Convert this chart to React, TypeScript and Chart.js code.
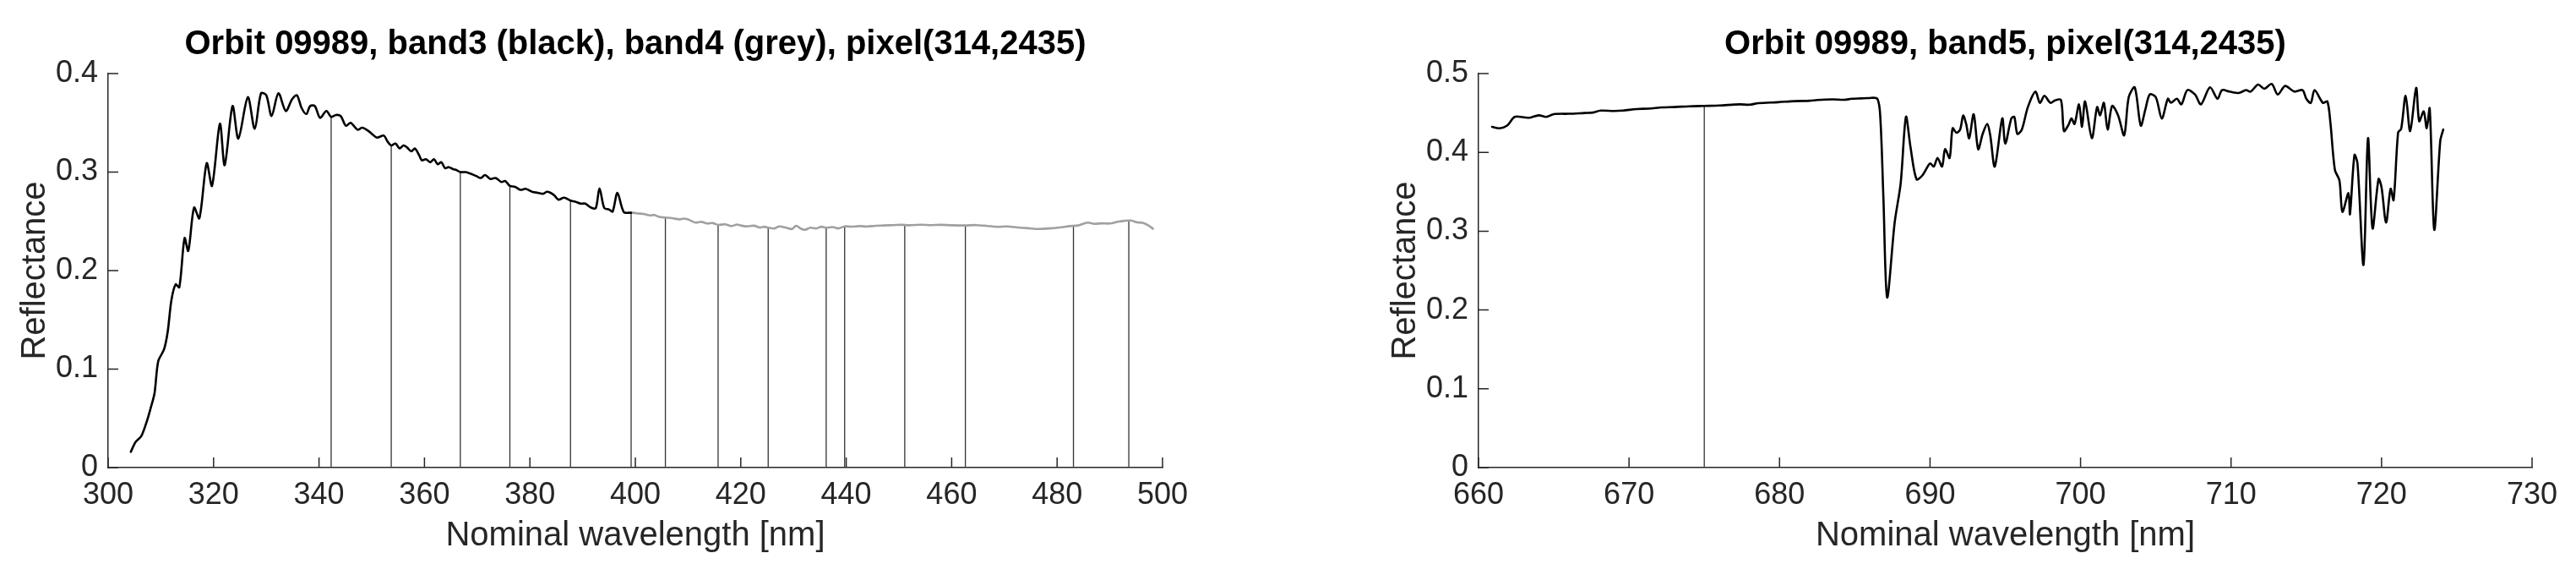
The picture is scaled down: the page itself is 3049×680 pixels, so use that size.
import { useEffect, useRef } from 'react';
import { Chart, registerables } from 'chart.js';

Chart.register(...registerables);

const FONT = "'Liberation Sans', Arial, Helvetica, sans-serif";
const AXIS_COLOR = '#262626';

// ---------- Left panel: band3 (black) ----------
const band3Wl = [
  304.3, 305.2, 306.3, 307.4, 308.1, 308.8, 309.5, 310.6, 311.3, 312.0, 312.8, 313.5, 314.5, 315.2,
  316.3, 317.3, 318.7, 319.7, 321.2, 322.1, 323.6, 324.7, 326.5, 327.8, 329.0, 330.0, 331.0, 332.3,
  333.7, 334.9, 335.8, 336.7, 337.6, 338.3, 339.2, 340.2, 341.4, 342.3, 343.2, 344.1, 345.1, 346.0,
  347.3, 348.2, 349.3, 350.2, 351.0, 352.3, 353.0, 353.7, 354.5, 355.3, 356.0, 356.7, 357.5, 358.2,
  359.0, 359.5, 360.3, 361.1, 361.8, 362.5, 363.2, 363.9, 364.6, 365.4, 366.1, 366.8, 367.8, 368.9,
  369.8, 370.7, 371.5, 372.5, 373.5, 374.6, 375.3, 376.2, 377.2, 378.2, 379.2, 380.4, 381.5, 382.5,
  383.2, 383.9, 384.7, 385.4, 386.5, 387.7, 388.6, 389.6, 390.5, 391.6, 392.5, 393.2, 394.1, 395.0,
  395.7, 396.6, 397.8, 399.2,
];
const band3Refl = [
  0.016, 0.026, 0.032, 0.048, 0.061, 0.0755, 0.108, 0.12, 0.138, 0.17, 0.186, 0.183, 0.233, 0.22,
  0.264, 0.253, 0.309, 0.286, 0.349, 0.307, 0.367, 0.334, 0.376, 0.344, 0.38, 0.378, 0.357, 0.38,
  0.362, 0.374, 0.378, 0.365, 0.359, 0.367, 0.367, 0.355, 0.362, 0.356, 0.358, 0.357, 0.347, 0.35,
  0.343, 0.345, 0.342, 0.338, 0.335, 0.337, 0.331, 0.327, 0.329, 0.324, 0.327, 0.325, 0.321, 0.324,
  0.317, 0.312, 0.313, 0.31, 0.313, 0.308, 0.31, 0.304, 0.305, 0.303, 0.302, 0.3, 0.3, 0.298,
  0.296, 0.294, 0.297, 0.293, 0.294, 0.29, 0.291, 0.286, 0.285, 0.282, 0.283, 0.28, 0.279, 0.278,
  0.28, 0.279, 0.276, 0.272, 0.274, 0.271, 0.27, 0.268, 0.268, 0.264, 0.2635, 0.2835, 0.2635, 0.262,
  0.26, 0.279, 0.2595, 0.2587,
];

// ---------- Left panel: band4 (grey) ----------
const band4Wl = [
  399.2, 400.5, 401.5, 402.8, 403.6, 404.5, 405.7, 407.0, 408.3, 409.2, 410.0, 411.4, 412.5, 413.6,
  414.7, 415.7, 417.0, 418.2, 419.3, 420.0, 421.2, 422.5, 423.6, 424.4, 425.2, 426.4, 427.3, 428.6,
  429.7, 430.5, 431.4, 432.2, 433.2, 434.3, 435.3, 436.2, 437.4, 438.5, 439.7, 441.0, 442.5, 444.0,
  445.6, 447.2, 449.0, 450.5, 452.0, 454.3, 456.0, 458.0, 460.0, 462.6, 464.5, 466.5, 468.6, 470.5,
  472.5, 474.5, 476.5, 478.5, 480.5, 482.5, 484.0, 485.8, 487.0, 488.5, 490.0, 491.5, 492.8, 494.0,
  495.2, 496.2, 497.2, 498.2,
];
const band4Refl = [
  0.259, 0.258, 0.2575, 0.256, 0.2565, 0.2545, 0.2538, 0.2532, 0.252, 0.2528, 0.252, 0.2487, 0.2495, 0.2478,
  0.2482, 0.2464, 0.247, 0.2452, 0.2468, 0.2458, 0.2448, 0.2456, 0.2437, 0.2445, 0.2435, 0.2428, 0.2448, 0.2435,
  0.2422, 0.2455, 0.2425, 0.2415, 0.2435, 0.2428, 0.2445, 0.2435, 0.2442, 0.2428, 0.2449, 0.2446, 0.2452, 0.2447,
  0.2455, 0.2458, 0.2462, 0.2465, 0.246, 0.2466, 0.2462, 0.2465, 0.246, 0.2458, 0.2462, 0.2455, 0.2444, 0.2448,
  0.2438, 0.243, 0.2423, 0.2428, 0.2438, 0.2452, 0.2458, 0.2487, 0.2475, 0.248, 0.2478, 0.2495, 0.2505, 0.2508,
  0.249, 0.2485, 0.2462, 0.2425,
];

// Vertical marker lines in left panel
const markerWlLeft = [342.3, 353.7, 366.8, 376.2, 387.7, 399.2, 405.7, 415.7, 425.2, 436.2, 439.7, 451.1, 462.6, 483.1, 493.6];
const markerTopLeft = [0.356, 0.327, 0.3, 0.286, 0.271, 0.2587, 0.2538, 0.2464, 0.2435, 0.2435, 0.2449, 0.246, 0.2458, 0.2452, 0.2508];

// ---------- Right panel: band5 ----------
const band5Wl = [
  660.9, 661.4, 661.9, 662.4, 663.0, 663.4, 664.0, 664.5, 665.0, 666.0, 667.05, 667.6, 668.1, 669.0,
  669.6, 670.5, 671.3, 672.2, 673.0, 674.0, 675.0, 676.0, 677.35, 678.0, 678.6, 679.9, 681.0, 682.0,
  682.5, 683.5, 684.3, 684.8, 685.4, 685.9, 686.5, 686.7, 686.9, 687.15, 687.65, 688.05, 688.4, 688.7,
  689.1, 689.5, 690.0, 690.25, 690.5, 690.8, 691.0, 691.3, 691.5, 691.75, 692.0, 692.2, 692.4, 692.6,
  692.9, 693.2, 693.5, 693.8, 694.0, 694.3, 694.8, 695.0, 695.4, 695.6, 695.8, 696.1, 696.5, 697.0,
  697.3, 697.6, 698.0, 698.3, 698.7, 698.9, 699.2, 699.4, 699.6, 699.9, 700.1, 700.3, 700.75, 701.1,
  701.3, 701.55, 701.8, 702.1, 702.5, 702.9, 703.2, 703.6, 704.0, 704.3, 704.6, 705.0, 705.4, 705.8,
  706.0, 706.4, 706.7, 707.1, 707.6, 708.0, 708.6, 709.1, 709.4, 709.9, 710.5, 711.0, 711.3, 711.8,
  712.2, 712.7, 713.1, 713.6, 714.2, 714.75, 715.0, 715.3, 715.55, 716.1, 716.4, 716.6, 716.9, 717.2,
  717.4, 717.8, 717.9, 718.2, 718.4, 718.8, 719.1, 719.4, 719.8, 720.0, 720.3, 720.6, 720.8, 721.1,
  721.3, 721.6, 721.9, 722.3, 722.5, 722.8, 723.0, 723.2, 723.5, 723.9, 724.1,
];
const band5Refl = [
  0.4324, 0.4306, 0.434, 0.445, 0.4445, 0.444, 0.447, 0.445, 0.4485, 0.449, 0.45, 0.4505, 0.453, 0.4525,
  0.453, 0.455, 0.4555, 0.457, 0.4575, 0.4585, 0.459, 0.4595, 0.461, 0.4605, 0.4625, 0.4637, 0.465, 0.4655,
  0.4664, 0.4672, 0.4668, 0.468, 0.4685, 0.4689, 0.468, 0.443, 0.343, 0.216, 0.311, 0.361, 0.445, 0.407,
  0.366, 0.371, 0.386, 0.382, 0.393, 0.382, 0.404, 0.393, 0.4306, 0.425, 0.429, 0.4467, 0.436, 0.418,
  0.4485, 0.404, 0.4235, 0.436, 0.4217, 0.382, 0.443, 0.411, 0.443, 0.445, 0.4235, 0.429, 0.4575, 0.477,
  0.4628, 0.4718, 0.4628, 0.466, 0.4664, 0.427, 0.435, 0.443, 0.436, 0.461, 0.4324, 0.4646, 0.418, 0.4575,
  0.447, 0.4628, 0.429, 0.459, 0.4467, 0.4217, 0.47, 0.4825, 0.434, 0.4539, 0.4735, 0.47, 0.443, 0.468,
  0.463, 0.468, 0.461, 0.479, 0.4735, 0.461, 0.4825, 0.468, 0.479, 0.4771, 0.4753, 0.479, 0.4771, 0.486,
  0.4807, 0.4868, 0.4735, 0.4843, 0.4771, 0.479, 0.468, 0.4628, 0.479, 0.4628, 0.4646, 0.4378, 0.3777, 0.3645,
  0.3245, 0.3484, 0.3216, 0.3967, 0.386, 0.2572, 0.418, 0.3036, 0.3662, 0.3555, 0.311, 0.3537, 0.3394, 0.4253,
  0.4296, 0.4718, 0.427, 0.4818, 0.4396, 0.452, 0.4306, 0.4557, 0.3018, 0.4145, 0.429,
];

const markerWlRight = [675.0];
const markerTopRight = [0.459];

// Axis ticks / ranges
const leftXRange = [300, 500];
const leftXStep = 20;
const leftYMax = 0.4;
const rightXRange = [660, 730];
const rightXStep = 10;
const rightYMax = 0.5;
const yStep = 0.1;

const leftTitle = 'Orbit 09989, band3 (black), band4 (grey), pixel(314,2435)';
const rightTitle = 'Orbit 09989, band5, pixel(314,2435)';
const xTitle = 'Nominal wavelength [nm]';
const yTitle = 'Reflectance';

const toPoints = (xs: number[], ys: number[]) => xs.map((x, i) => ({ x, y: ys[i] }));
const toStems = (xs: number[], tops: number[]) =>
  xs.flatMap((x, i) => [
    { x, y: 0 },
    { x, y: tops[i] },
    { x, y: null as any },
  ]);

const inwardTicks = {
  id: 'inwardTicks',
  afterDatasetsDraw(chart: any) {
    const { ctx, chartArea, scales } = chart;
    const xs = scales.x;
    const ys = scales.y;
    ctx.save();
    ctx.strokeStyle = AXIS_COLOR;
    ctx.lineWidth = 1.5;
    ctx.beginPath();
    xs.ticks.forEach((t: any) => {
      const px = xs.getPixelForValue(t.value);
      ctx.moveTo(px, chartArea.bottom);
      ctx.lineTo(px, chartArea.bottom - 12);
    });
    ys.ticks.forEach((t: any) => {
      const py = ys.getPixelForValue(t.value);
      ctx.moveTo(chartArea.left, py);
      ctx.lineTo(chartArea.left + 12, py);
    });
    ctx.stroke();
    ctx.restore();
  },
};

function buildConfig(p: {
  title: string;
  xRange: number[];
  xStep: number;
  yMax: number;
  padRight: number;
  datasets: any[];
}) {
  return {
    type: 'line' as const,
    data: { datasets: p.datasets },
    options: {
      responsive: false,
      animation: false as const,
      devicePixelRatio: 1,
      layout: { padding: { left: 0, right: p.padRight, top: 0, bottom: 0 } },
      elements: { point: { radius: 0 }, line: { tension: 0 } },
      plugins: {
        legend: { display: false },
        tooltip: { enabled: false },
        title: {
          display: true,
          text: p.title,
          color: '#000',
          fullSize: false,
          font: { family: FONT, size: 40, weight: 'bold' as const },
          padding: { top: 29, bottom: 10 },
        },
      },
      scales: {
        x: {
          type: 'linear' as const,
          position: 'bottom' as const,
          min: p.xRange[0],
          max: p.xRange[1],
          ticks: {
            stepSize: p.xStep,
            color: AXIS_COLOR,
            font: { family: FONT, size: 36 },
            padding: 11,
            maxRotation: 0,
            autoSkip: false,
          },
          grid: { display: false, drawTicks: false },
          border: { display: true, color: AXIS_COLOR, width: 1.5 },
          title: {
            display: true,
            text: xTitle,
            color: AXIS_COLOR,
            font: { family: FONT, size: 40 },
            padding: { top: 0, bottom: 22 },
          },
          afterFit: (s: any) => {
            s.height = 127;
          },
        },
        y: {
          type: 'linear' as const,
          position: 'left' as const,
          min: 0,
          max: p.yMax,
          ticks: {
            stepSize: yStep,
            color: AXIS_COLOR,
            font: { family: FONT, size: 36 },
            padding: 12,
          },
          grid: { display: false, drawTicks: false },
          border: { display: true, color: AXIS_COLOR, width: 1.5 },
          title: {
            display: true,
            text: yTitle,
            color: AXIS_COLOR,
            font: { family: FONT, size: 40 },
            padding: { top: 18, bottom: 0 },
          },
          afterFit: (s: any) => {
            s.width = 128;
          },
        },
      },
    },
    plugins: [inwardTicks],
  };
}

function Panel(props: { left: number; width: number; config: any }) {
  const ref = useRef<HTMLCanvasElement | null>(null);
  useEffect(() => {
    if (!ref.current) return;
    const chart = new Chart(ref.current, props.config);
    return () => chart.destroy();
  }, []);
  return (
    <canvas
      ref={ref}
      width={props.width}
      height={680}
      style={{ position: 'absolute', left: props.left, top: 0, width: props.width, height: 680 }}
    />
  );
}

const curveStyle = { borderWidth: 2.6, pointRadius: 0, tension: 0.3, borderJoinStyle: 'round' as const, borderCapStyle: 'round' as const };
const stemStyle = { borderColor: '#333333', borderWidth: 1.3, pointRadius: 0, spanGaps: false, tension: 0 };

export default function App() {
  const leftConfig = buildConfig({
    title: leftTitle,
    xRange: leftXRange,
    xStep: leftXStep,
    yMax: leftYMax,
    padRight: 54,
    datasets: [
      { data: toPoints(band3Wl, band3Refl), borderColor: '#000', ...curveStyle },
      { data: toPoints(band4Wl, band4Refl), borderColor: '#a0a0a0', ...curveStyle },
      { data: toStems(markerWlLeft, markerTopLeft), ...stemStyle },
    ],
  });
  const rightConfig = buildConfig({
    title: rightTitle,
    xRange: rightXRange,
    xStep: rightXStep,
    yMax: rightYMax,
    padRight: 52,
    datasets: [
      { data: toPoints(band5Wl, band5Refl), borderColor: '#000', ...curveStyle },
      { data: toStems(markerWlRight, markerTopRight), ...stemStyle },
    ],
  });
  return (
    <div style={{ position: 'absolute', left: 0, top: 0, width: 3049, height: 680, background: '#fff', overflow: 'hidden' }}>
      <Panel left={0} width={1430} config={leftConfig} />
      <Panel left={1622} width={1427} config={rightConfig} />
    </div>
  );
}
